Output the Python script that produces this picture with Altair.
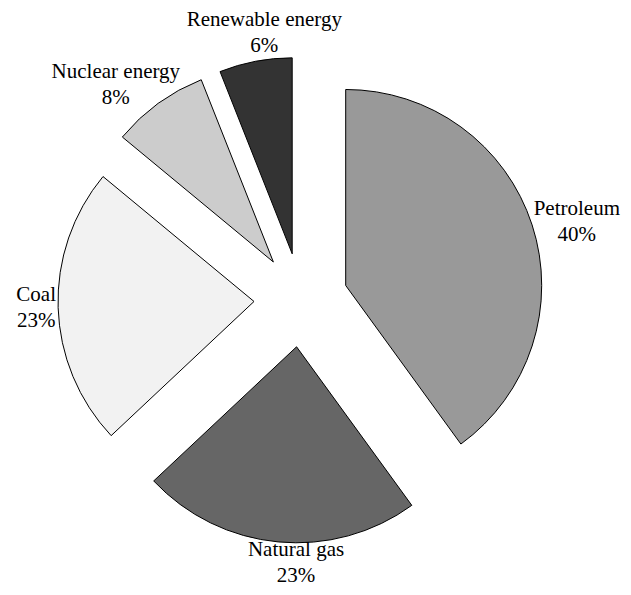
import altair as alt
import pandas as pd

categories = ["Petroleum", "Natural gas", "Coal", "Nuclear energy", "Renewable energy"]
shares = [40, 23, 23, 8, 6]
colors = ["#999999", "#666666", "#f2f2f2", "#cccccc", "#333333"]

W, H = 615, 579
CX, CY = 293, 292
EXPLODE = 47
R = 196
LAB_DX = 198      # horizontal label distance from slice apex
LAB_DY = 201      # vertical label distance from slice apex
CHAR_HALF = 5     # approx half width per character
HALF_H = 16
TOP_LIFT = 9      # extra lift for labels near the top

df = pd.DataFrame({"category": categories, "share": shares, "order": range(len(categories))})

base = alt.Chart(df).transform_window(
    cum="sum(share)", sort=[alt.SortField("order")], frame=[None, 0]
).transform_joinaggregate(
    total="sum(share)"
).transform_calculate(
    t0="2*PI*(datum.cum - datum.share)/datum.total",
    t1="2*PI*datum.cum/datum.total",
).transform_calculate(
    mid="(datum.t0 + datum.t1)/2"
).transform_calculate(
    s="sin(datum.mid)",
    c="cos(datum.mid)",
).transform_calculate(
    px=f"{CX} + {EXPLODE}*datum.s",
    py=f"{CY} - {EXPLODE}*datum.c",
    hw=f"{CHAR_HALF}*length(datum.category)",
    wgt="clamp((abs(datum.s) - 0.09)*5.5, 0, 1)",
    label="datum.category + '\\n' + datum.share + '%'",
).transform_calculate(
    lx=f"datum.px + datum.s*({LAB_DX} + datum.hw)*datum.wgt",
    ly=f"datum.py - datum.c*({LAB_DY} + {HALF_H}*abs(datum.c)) - {TOP_LIFT}*pow(max(datum.c, 0), 4)",
)

arcs = base.mark_arc(radius=R, stroke="black", strokeWidth=1).encode(
    theta=alt.Theta("t0:Q", scale=None),
    theta2="t1:Q",
    x=alt.X("px:Q", scale=None),
    y=alt.Y("py:Q", scale=None),
    color=alt.Color("category:N", scale=alt.Scale(domain=categories, range=colors), legend=None),
)

labels = base.mark_text(
    font="Liberation Serif", fontSize=21, align="center", baseline="middle",
    lineBreak="\n", lineHeight=26, dy=-13, color="black"
).encode(
    x=alt.X("lx:Q", scale=None),
    y=alt.Y("ly:Q", scale=None),
    text="label:N",
)

chart = alt.layer(arcs, labels).properties(
    width=W, height=H, padding=0, autosize=alt.AutoSizeParams(type="none")
).configure_view(stroke=None)

chart.save("out.html", embed_options={"renderer": "svg", "actions": False})
